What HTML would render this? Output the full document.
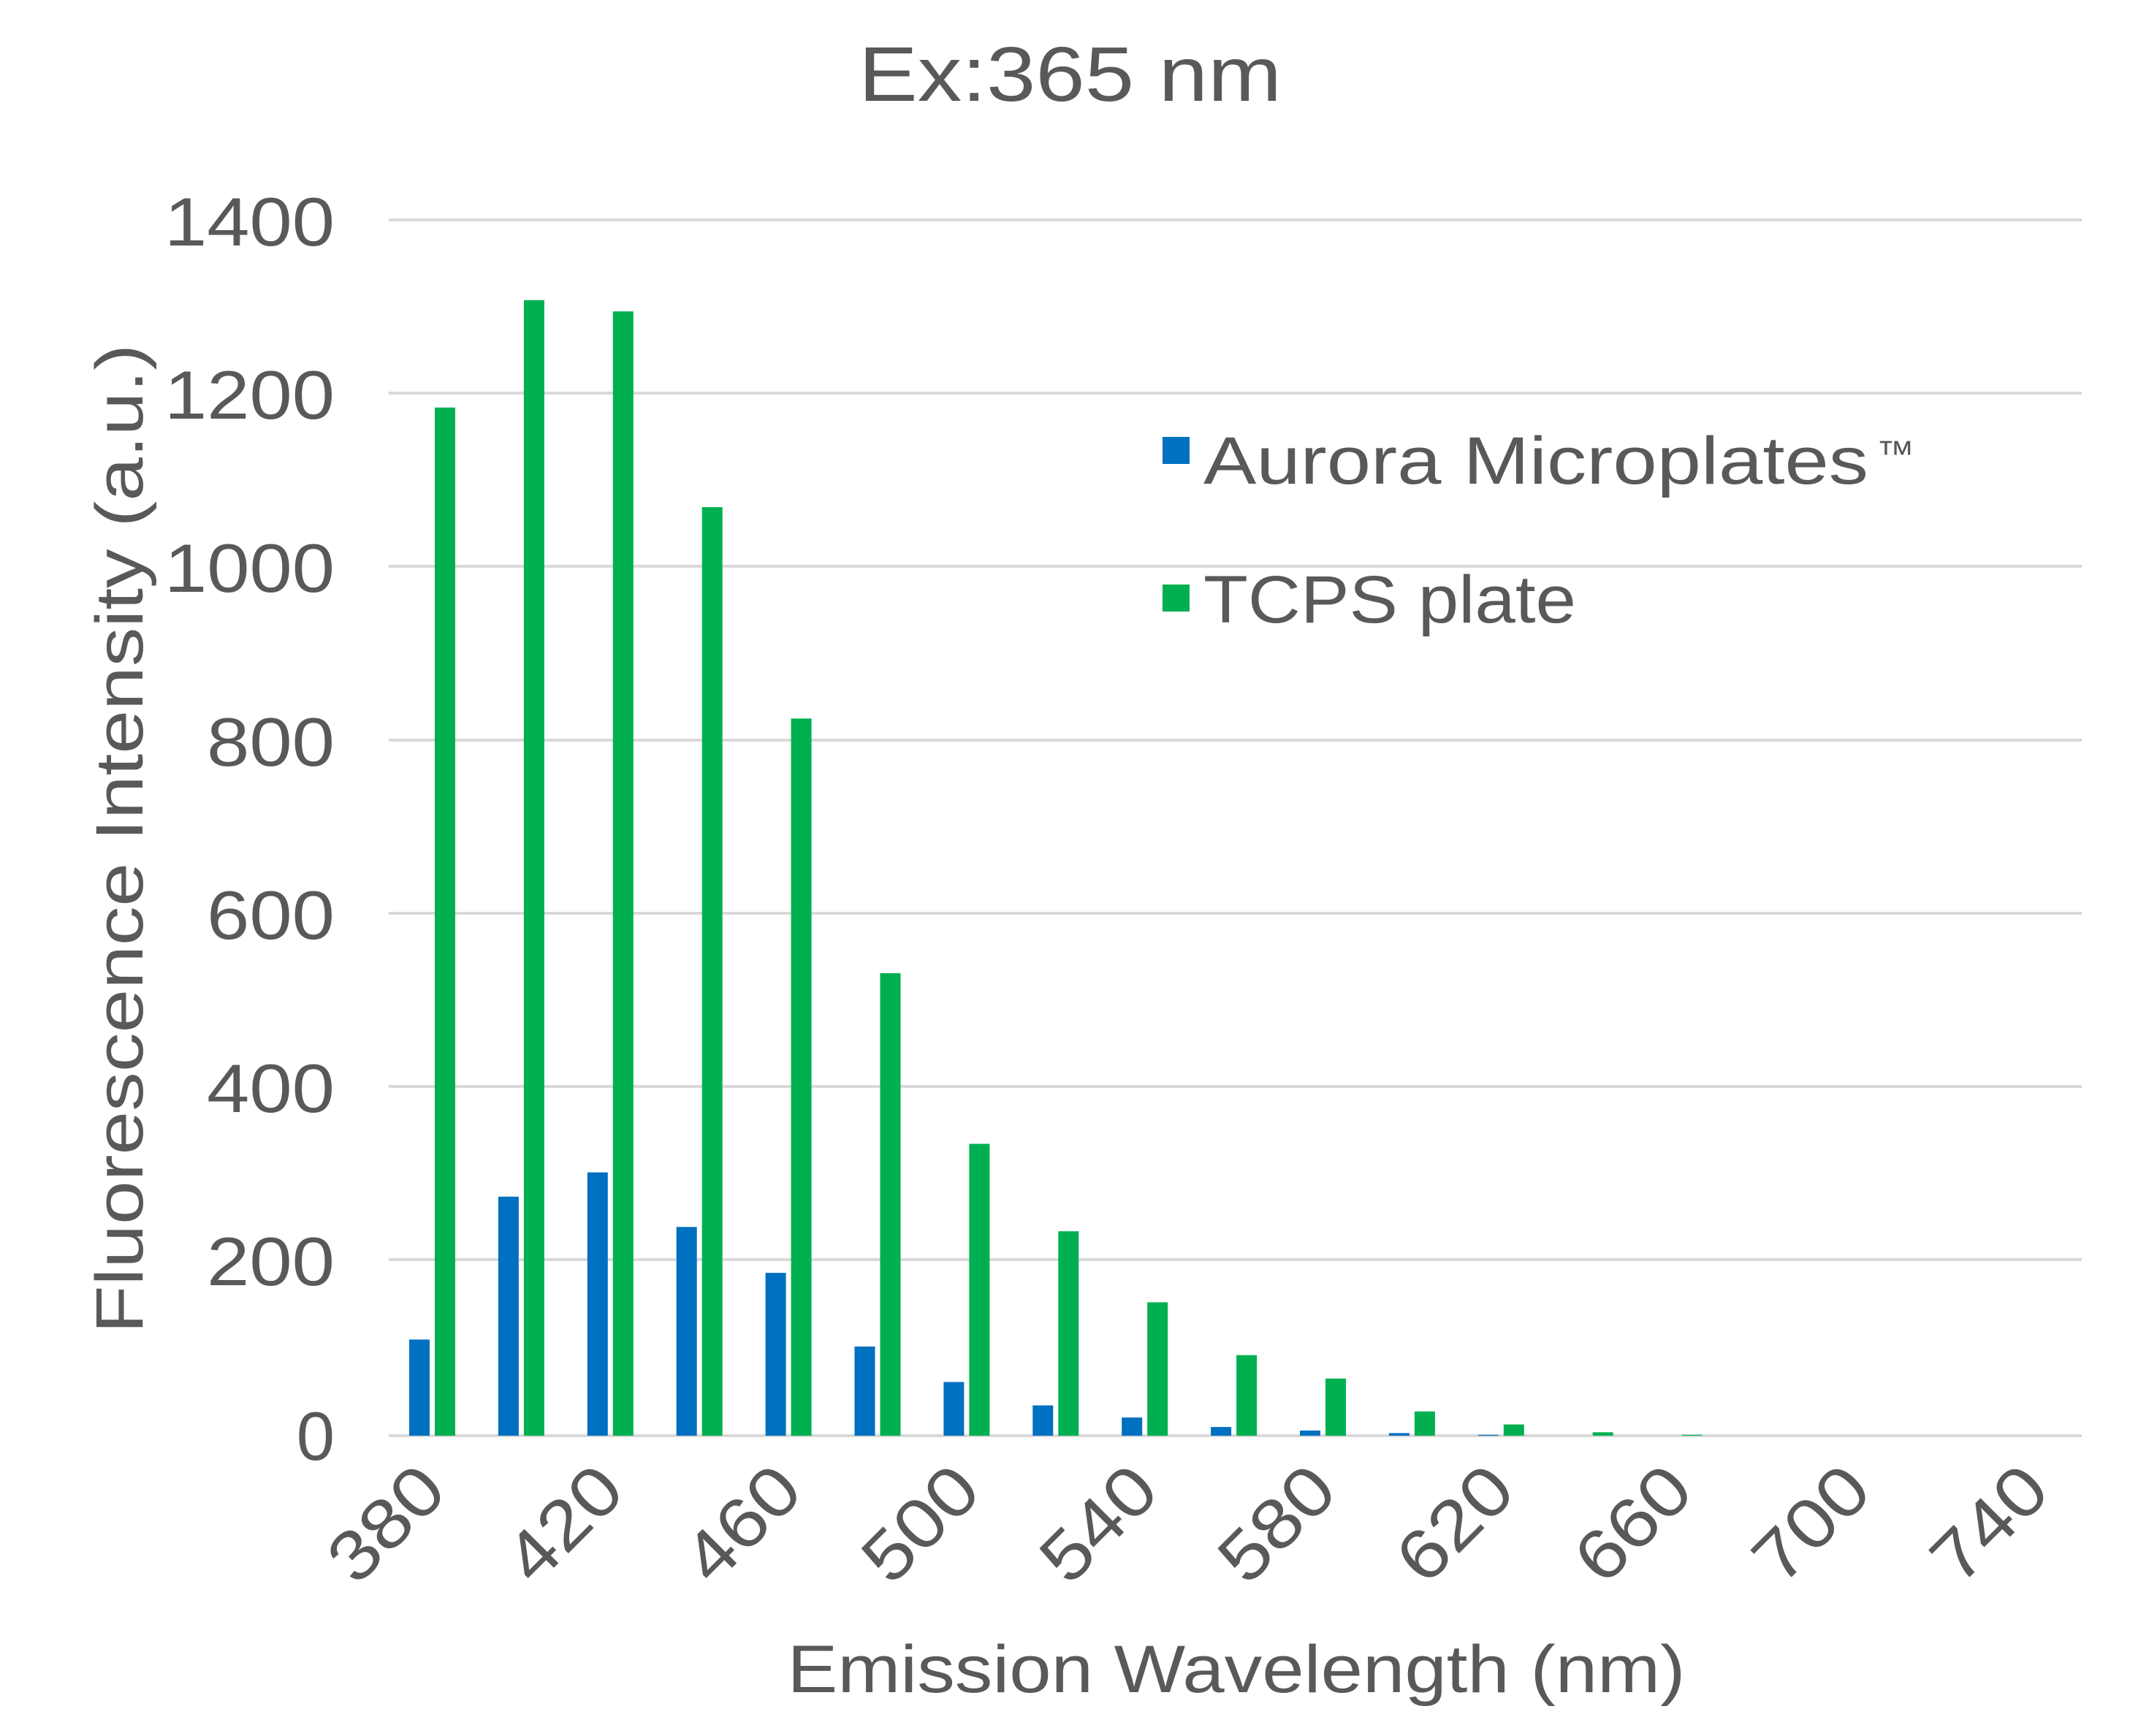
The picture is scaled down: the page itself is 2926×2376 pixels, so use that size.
<!DOCTYPE html>
<html><head><meta charset="utf-8"><style>
html,body{margin:0;padding:0;background:#fff;}
svg{display:block;}
text{font-family:"Liberation Sans","Noto Sans CJK JP",sans-serif;fill:#595959;}
</style></head><body>
<svg width="2926" height="2376" viewBox="0 0 2926 2376" xmlns="http://www.w3.org/2000/svg">
<rect width="2926" height="2376" fill="#fff"/>
<text x="1175" y="138" font-size="106" textLength="579" lengthAdjust="spacingAndGlyphs">Ex:365 nm</text>
<g stroke="#d9d9d9" stroke-width="4">
<line x1="532" y1="301" x2="2849" y2="301"/>
<line x1="532" y1="538" x2="2849" y2="538"/>
<line x1="532" y1="775" x2="2849" y2="775"/>
<line x1="532" y1="1013" x2="2849" y2="1013"/>
<line x1="532" y1="1250" x2="2849" y2="1250"/>
<line x1="532" y1="1487" x2="2849" y2="1487"/>
<line x1="532" y1="1724" x2="2849" y2="1724"/>
<line x1="532" y1="1965" x2="2849" y2="1965"/>
</g>
<g font-size="94" text-anchor="end">
<text x="458" y="336" textLength="233" lengthAdjust="spacingAndGlyphs">1400</text>
<text x="458" y="573" textLength="233" lengthAdjust="spacingAndGlyphs">1200</text>
<text x="458" y="810" textLength="233" lengthAdjust="spacingAndGlyphs">1000</text>
<text x="458" y="1048" textLength="175" lengthAdjust="spacingAndGlyphs">800</text>
<text x="458" y="1285" textLength="175" lengthAdjust="spacingAndGlyphs">600</text>
<text x="458" y="1522" textLength="175" lengthAdjust="spacingAndGlyphs">400</text>
<text x="458" y="1759" textLength="175" lengthAdjust="spacingAndGlyphs">200</text>
<text x="458" y="1998">0</text>
</g>
<g fill="#0070c0">
<rect x="560" y="1833.4" width="28" height="131.6"/>
<rect x="681.9" y="1637.8" width="28" height="327.2"/>
<rect x="803.8" y="1604.6" width="28" height="360.4"/>
<rect x="925.7" y="1679.3" width="28" height="285.7"/>
<rect x="1047.6" y="1742.1" width="28" height="222.9"/>
<rect x="1169.5" y="1842.9" width="28" height="122.1"/>
<rect x="1291.4" y="1891.5" width="28" height="73.5"/>
<rect x="1413.3" y="1923.5" width="28" height="41.5"/>
<rect x="1535.2" y="1940.1" width="28" height="24.9"/>
<rect x="1657.1" y="1953.1" width="28" height="11.9"/>
<rect x="1779" y="1957.9" width="28" height="7.1"/>
<rect x="1900.9" y="1961.4" width="28" height="3.6"/>
<rect x="2022.8" y="1963.8" width="28" height="1.2"/>
</g>
<g fill="#00b050">
<rect x="595" y="557.8" width="28" height="1407.2"/>
<rect x="716.9" y="410.8" width="28" height="1554.2"/>
<rect x="838.8" y="426.2" width="28" height="1538.8"/>
<rect x="960.7" y="694.1" width="28" height="1270.9"/>
<rect x="1082.6" y="983.4" width="28" height="981.6"/>
<rect x="1204.5" y="1331.9" width="28" height="633.1"/>
<rect x="1326.4" y="1565.5" width="28" height="399.5"/>
<rect x="1448.3" y="1685.2" width="28" height="279.8"/>
<rect x="1570.2" y="1782.4" width="28" height="182.6"/>
<rect x="1692.1" y="1854.7" width="28" height="110.3"/>
<rect x="1814" y="1886.8" width="28" height="78.2"/>
<rect x="1935.9" y="1931.8" width="28" height="33.2"/>
<rect x="2057.8" y="1949.6" width="28" height="15.4"/>
<rect x="2179.7" y="1960.3" width="28" height="4.7"/>
<rect x="2301.6" y="1963.8" width="28" height="1.2"/>
</g>
<g font-size="96" text-anchor="end">
<text x="615" y="2045" transform="rotate(-45 615 2045)" textLength="180" lengthAdjust="spacingAndGlyphs">380</text>
<text x="858.8" y="2045" transform="rotate(-45 858.8 2045)" textLength="180" lengthAdjust="spacingAndGlyphs">420</text>
<text x="1102.6" y="2045" transform="rotate(-45 1102.6 2045)" textLength="180" lengthAdjust="spacingAndGlyphs">460</text>
<text x="1346.4" y="2045" transform="rotate(-45 1346.4 2045)" textLength="180" lengthAdjust="spacingAndGlyphs">500</text>
<text x="1590.2" y="2045" transform="rotate(-45 1590.2 2045)" textLength="180" lengthAdjust="spacingAndGlyphs">540</text>
<text x="1834" y="2045" transform="rotate(-45 1834 2045)" textLength="180" lengthAdjust="spacingAndGlyphs">580</text>
<text x="2077.8" y="2045" transform="rotate(-45 2077.8 2045)" textLength="180" lengthAdjust="spacingAndGlyphs">620</text>
<text x="2321.6" y="2045" transform="rotate(-45 2321.6 2045)" textLength="180" lengthAdjust="spacingAndGlyphs">660</text>
<text x="2565.4" y="2045" transform="rotate(-45 2565.4 2045)" textLength="180" lengthAdjust="spacingAndGlyphs">700</text>
<text x="2809.2" y="2045" transform="rotate(-45 2809.2 2045)" textLength="180" lengthAdjust="spacingAndGlyphs">740</text>
</g>
<text transform="translate(195,1148) rotate(-90)" font-size="92" text-anchor="middle" textLength="1354" lengthAdjust="spacingAndGlyphs">Fluorescence Intensity (a.u.)</text>
<text x="1692" y="2316" font-size="92" text-anchor="middle" textLength="1229" lengthAdjust="spacingAndGlyphs">Emission Wavelength (nm)</text>
<rect x="1591" y="598" width="37" height="37" fill="#0070c0"/>
<text x="1647" y="662" font-size="92" textLength="910" lengthAdjust="spacingAndGlyphs">Aurora Microplates</text>
<text x="2568" y="638" font-size="50" textLength="52" lengthAdjust="spacingAndGlyphs">™</text>
<rect x="1591" y="800" width="37" height="37" fill="#00b050"/>
<text x="1647" y="852" font-size="92" textLength="510" lengthAdjust="spacingAndGlyphs">TCPS plate</text>
</svg>
</body></html>
